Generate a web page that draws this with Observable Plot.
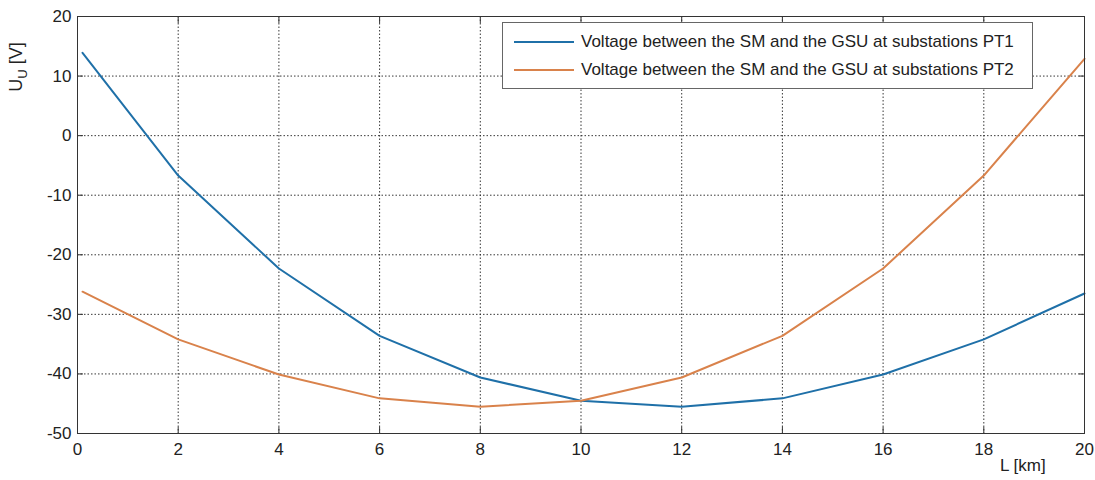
<!DOCTYPE html>
<html><head><meta charset="utf-8">
<script src="https://cdn.jsdelivr.net/npm/d3@7"></script>
<script src="https://cdn.jsdelivr.net/npm/@observablehq/plot@0.6"></script>
<style>
body{margin:0;background:#fff;font-family:"Liberation Sans",Arial,sans-serif;}
#wrap{position:relative;width:1095px;height:480px;}
.legend{position:absolute;left:502px;top:22px;width:531px;height:67px;border:1px solid #666;background:#fff;box-sizing:border-box;font-size:17px;color:#222;}
.legend .row{position:absolute;left:11px;display:flex;align-items:center;}
.legend .sw{width:60px;height:2px;margin-right:7px;}
.ylab{position:absolute;left:18px;top:67px;transform:translate(-50%,-50%) rotate(-90deg);font-size:18px;color:#222;white-space:nowrap;}
.xlab{position:absolute;left:1000px;top:456px;font-size:17px;color:#222;}
</style></head>
<body><div id="wrap"></div>
<script>
const L = [0.1, 2, 4, 6, 8, 10, 12, 14, 16, 18, 20];
const pt1 = [13.9, -6.7, -22.3, -33.6, -40.6, -44.5, -45.5, -44.1, -40.1, -34.2, -26.5];
const pt2 = [-26.2, -34.2, -40.1, -44.1, -45.5, -44.5, -40.6, -33.6, -22.3, -6.7, 12.9];
const seriesNames = ["Voltage between the SM and the GSU at substations PT1", "Voltage between the SM and the GSU at substations PT2"];
const colors = ["#1f70a8", "#d9824b"];
const xTicks = [0, 2, 4, 6, 8, 10, 12, 14, 16, 18, 20];
const yTicks = [-50, -40, -30, -20, -10, 0, 10, 20];

const data = [];
L.forEach((x, i) => { data.push({L: x, U: pt1[i], s: seriesNames[0]}); });
L.forEach((x, i) => { data.push({L: x, U: pt2[i], s: seriesNames[1]}); });

const grid = {stroke: "#222", strokeOpacity: 0.9, strokeDasharray: "1.5,2", strokeWidth: 1};
const fmt = d => String(d);
const none = () => "";
const chart = Plot.plot({
  width: 1095, height: 480,
  marginLeft: 77, marginRight: 11, marginTop: 16, marginBottom: 47,
  style: {fontFamily: "'Liberation Sans', Arial, sans-serif", fontSize: "16px", color: "#222", background: "#fff"},
  x: {domain: [0, 20], ticks: xTicks},
  y: {domain: [-50, 20], ticks: yTicks},
  color: {domain: seriesNames, range: colors},
  marks: [
    Plot.gridX(xTicks.slice(1, -1), grid),
    Plot.gridY(yTicks.slice(1, -1), grid),
    Plot.axisX({ticks: xTicks, tickSize: 0, tickPadding: 9, label: null, fontSize: 17, tickFormat: fmt}),
    Plot.axisY({ticks: yTicks, tickSize: 0, tickPadding: 6, label: null, fontSize: 17, tickFormat: fmt}),
    Plot.axisX({ticks: xTicks, anchor: "bottom", tickSize: -6, label: null, tickFormat: none, stroke: "#333"}),
    Plot.axisX({ticks: xTicks, anchor: "top", tickSize: -6, label: null, tickFormat: none, stroke: "#333"}),
    Plot.axisY({ticks: yTicks, anchor: "left", tickSize: -6, label: null, tickFormat: none, stroke: "#333"}),
    Plot.axisY({ticks: yTicks, anchor: "right", tickSize: -6, label: null, tickFormat: none, stroke: "#333"}),
    Plot.line(data, {x: "L", y: "U", z: "s", stroke: "s", strokeWidth: 2}),
    Plot.frame({stroke: "#333", strokeWidth: 1})
  ]
});
const wrap = document.getElementById("wrap");
wrap.appendChild(chart);

const leg = document.createElement("div");
leg.className = "legend";
seriesNames.forEach((n, i) => {
  const r = document.createElement("div");
  r.className = "row";
  r.style.top = (i === 0 ? 9 : 37) + "px";
  r.innerHTML = `<span class="sw" style="background:${colors[i]}"></span><span>${n}</span>`;
  leg.appendChild(r);
});
wrap.appendChild(leg);

const yl = document.createElement("div");
yl.className = "ylab";
yl.innerHTML = "U<sub style='font-size:13px'>U</sub> [V]";
wrap.appendChild(yl);
const xl = document.createElement("div");
xl.className = "xlab";
xl.textContent = "L [km]";
wrap.appendChild(xl);
</script></body></html>
